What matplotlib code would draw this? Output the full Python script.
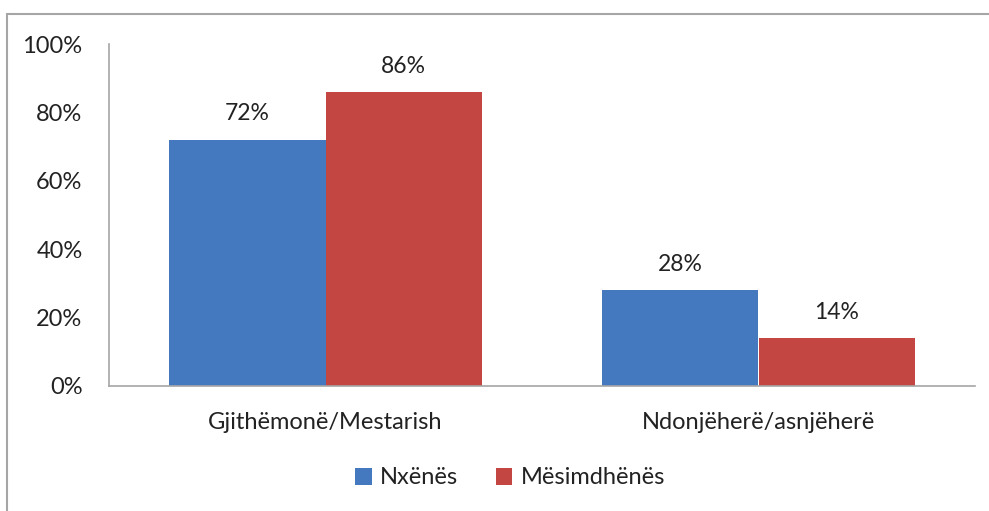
import numpy as np
import matplotlib.pyplot as plt
from matplotlib.patches import Rectangle

categories = ['Gjithëmonë/Mestarish', 'Ndonjëherë/asnjëherë']
nxenes = [72, 28]
mesimdhenes = [86, 14]
series_names = ['Nxënës', 'Mësimdhënës']
colors = ['#4479bf', '#c44643']

plt.rcParams['font.family'] = ['Lato', 'DejaVu Sans']

fig = plt.figure(figsize=(9.89, 5.11), dpi=100)
ax = fig.add_axes([109/989, 1-386/511, 866/989, 342/511])

x = np.arange(len(categories))
w = 0.362
b1 = ax.bar(x - w/2, nxenes, w, color=colors[0], label=series_names[0])
b2 = ax.bar(x + w/2, mesimdhenes, w, color=colors[1], label=series_names[1])

for bars, vals in [(b1, nxenes), (b2, mesimdhenes)]:
    for r, v in zip(bars, vals):
        ax.annotate(f'{v}%', (r.get_x() + r.get_width()/2, v), xytext=(0, 11),
                    textcoords='offset points', ha='center', va='bottom',
                    fontsize=16.5, color='#222222')

ax.set_xlim(-0.5, 1.5)
ax.set_ylim(0, 100)
ax.set_yticks(range(0, 101, 20))
ax.set_yticklabels([f'{t}%' for t in range(0, 101, 20)])
ax.set_xticks(x)
ax.set_xticklabels(categories)
ax.tick_params(axis='both', length=0, labelsize=17, colors='#222222')
ax.tick_params(axis='y', pad=19)
ax.tick_params(axis='x', pad=19)
for s in ['top', 'right']:
    ax.spines[s].set_visible(False)
for s in ['left', 'bottom']:
    ax.spines[s].set_color('#a6a6a6')
    ax.spines[s].set_linewidth(1.2)

ax.legend(loc='center', bbox_to_anchor=(510/989, 1-478/511), bbox_transform=fig.transFigure,
          ncol=2, frameon=False, fontsize=17, handlelength=0.7, handleheight=0.7,
          handletextpad=0.35, columnspacing=1.6, labelcolor='#222222')

fig.patches.append(Rectangle((7/989, -0.1), 1.1, 1.1 - 14/511, transform=fig.transFigure,
                             fill=False, edgecolor='#a6a6a6', linewidth=1.5))

fig.savefig('out.png', dpi=100)
